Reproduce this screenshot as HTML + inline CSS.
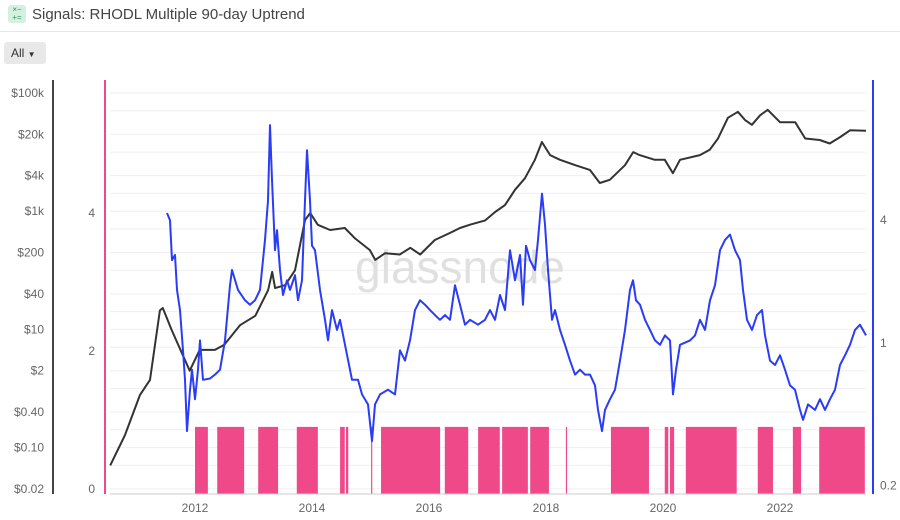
<!DOCTYPE html>
<html><head><meta charset="utf-8">
<style>
body{margin:0;width:900px;height:520px;background:#fff;font-family:"Liberation Sans",sans-serif;overflow:hidden;position:relative}
.hdr{position:absolute;left:0;top:0;width:900px;height:31px;border-bottom:1px solid #e6e6e6}
.icon{position:absolute;left:8px;top:5px;width:18px;height:18px;background:#d3f0e2;border-radius:3px;color:#3a8f6a;font-size:8px;line-height:8px;text-align:center;padding-top:1px;box-sizing:border-box}
.title{position:absolute;left:32px;top:6px;font-size:15px;color:#444}
.btn{position:absolute;left:4px;top:42px;width:42px;height:22px;background:#e8e8e8;border-radius:3px;font-size:12px;color:#333;line-height:22px;padding-left:7px;box-sizing:border-box}
svg{position:absolute;left:0;top:0}
</style></head><body>
<div class="hdr">
<div class="icon">×−<br>+=</div>
<div class="title">Signals: RHODL Multiple 90-day Uptrend</div>
</div>
<div class="btn">All <span style="font-size:8px">▼</span></div>
<svg id="chart" width="900" height="520"></svg>
<script>
const priceYears=[2010.55,2010.8,2011.06,2011.23,2011.4,2011.45,2011.6,2011.83,2011.91,2012.08,2012.34,2012.5,2012.77,2013.03,2013.25,2013.32,2013.37,2013.54,2013.71,2013.88,2013.97,2014.1,2014.31,2014.56,2014.73,2014.99,2015.08,2015.25,2015.5,2015.68,2015.85,2016.1,2016.36,2016.53,2016.7,2016.96,2017.13,2017.3,2017.47,2017.64,2017.81,2017.93,2018.07,2018.24,2018.5,2018.75,2018.92,2019.09,2019.35,2019.49,2019.6,2019.86,2020.03,2020.17,2020.29,2020.63,2020.8,2020.94,2021.11,2021.28,2021.4,2021.52,2021.66,2021.79,2022.0,2022.26,2022.43,2022.68,2022.85,2023.03,2023.2,2023.47];
const priceValues=[0.05,0.16,0.78,1.4,21,23,9.8,3.0,2.0,4.5,4.5,5.5,11.8,17,46,94,50,56,100,708,933,588,480,520,350,220,150,195,185,240,185,325,430,520,590,700,970,1270,2300,3600,7400,14800,8900,7400,6000,5000,3000,3400,6000,10000,8900,7400,7400,4400,7400,8900,11000,17000,38000,48000,35000,29000,42000,52000,32000,32000,17000,16000,14000,18000,23500,23000];
const rhodlX=[167,170,172,175,177,180,183,185,187,190,192,195,198,200,203,210,215,220,225,230,232,238,245,250,255,260,265,268,270,272,275,277,280,283,287,290,295,298,302,305,307,310,312,315,320,325,328,332,337,340,345,352,358,362,368,372,375,380,388,395,400,405,410,415,420,425,430,435,440,445,450,455,460,465,470,478,485,490,495,500,505,510,515,520,523,526,530,535,538,542,545,548,552,555,560,565,570,575,580,585,590,595,598,602,605,610,615,620,625,630,633,636,640,645,650,655,660,665,670,673,676,680,690,695,700,705,710,715,720,725,730,735,740,743,747,752,757,762,765,770,775,780,785,790,795,800,803,808,815,820,825,830,835,840,845,850,855,860,866];
const rhodlYears=rhodlX.map(x=>2012+(x-195)/58.5);
const rhodlValues=[4.34,4.0,2.55,2.7,1.82,1.45,0.92,0.66,0.37,0.59,0.74,0.53,0.74,1.03,0.66,0.67,0.70,0.74,1.03,1.92,2.28,1.82,1.62,1.54,1.62,1.82,3.2,5.0,11.7,6.3,2.85,3.57,2.28,1.72,2.03,1.82,2.15,1.62,2.03,5.0,8.8,5.0,3.0,2.85,1.82,1.30,1.03,1.45,1.16,1.30,0.98,0.66,0.66,0.56,0.50,0.33,0.50,0.56,0.59,0.56,0.92,0.82,1.03,1.45,1.62,1.54,1.45,1.37,1.30,1.37,1.30,1.92,1.54,1.23,1.30,1.23,1.30,1.45,1.30,1.72,1.45,2.85,2.03,2.7,1.54,3.0,2.55,2.28,3.2,5.4,3.8,2.28,1.30,1.45,1.16,0.98,0.82,0.70,0.74,0.70,0.70,0.62,0.47,0.37,0.47,0.53,0.59,0.82,1.16,1.82,2.03,1.62,1.54,1.30,1.16,1.03,0.98,1.09,1.03,0.56,0.74,0.98,1.03,1.09,1.30,1.16,1.62,1.92,2.85,3.2,3.4,2.85,2.55,1.82,1.30,1.16,1.37,1.45,1.09,0.82,0.78,0.87,0.74,0.62,0.59,0.47,0.42,0.50,0.47,0.53,0.47,0.53,0.59,0.78,0.87,0.98,1.16,1.23,1.09];
const signalStarts=[2012.0,2012.38,2013.08,2013.74,2014.48,2014.58,2015.01,2015.18,2016.27,2016.84,2017.25,2017.73,2018.34,2019.11,2020.03,2020.12,2020.39,2021.62,2022.22,2022.67];
const signalEnds=[2012.22,2012.84,2013.42,2014.10,2014.56,2014.62,2015.03,2016.19,2016.67,2017.21,2017.69,2018.05,2018.36,2019.76,2020.09,2020.19,2021.26,2021.88,2022.36,2023.45];
const signalValue=0.9;
const priceTicks=[100000,20000,4000,1000,200,40,10,2,0.4,0.1,0.02];
const priceTickLabels=["$100k","$20k","$4k","$1k","$200","$40","$10","$2","$0.40","$0.10","$0.02"];
const gridValues=[100000,50000,20000,10000,4000,2000,1000,500,200,100,40,20,10,5,2,1,0.4,0.2,0.1,0.05,0.02];
const signalTicks=[0,2,4];
const rhodlTicks=[4,1,0.2];
const yearTicks=[2012,2014,2016,2018,2020,2022];

const X=y=>195+(y-2012)*58.5;
const YP=v=>93+(5-Math.log10(v))*59.1;
const YS=v=>489-v*69;
const YR=v=>343-Math.log10(v)*204;
const svg=document.getElementById('chart');
const NS='http://www.w3.org/2000/svg';
function mk(tag,attrs,parent){const e=document.createElementNS(NS,tag);for(const k in attrs)e.setAttribute(k,attrs[k]);(parent||svg).appendChild(e);return e;}

gridValues.forEach(v=>{const l=mk('line',{x1:110,x2:866,y1:YP(v),y2:YP(v),stroke:'#efefef','stroke-width':1});

});
const wm=mk('text',{x:460,y:283,'font-size':46,fill:'#e0e0e0','text-anchor':'middle','font-family':'Liberation Sans, sans-serif'});
wm.textContent='glassnode';



signalStarts.forEach((s,i)=>{const r=mk('rect',{x:X(s),y:YS(signalValue),width:Math.max(1,X(signalEnds[i])-X(s)),height:489-YS(signalValue)+5,fill:'#f0498a'});

});

const pp=mk('path',{d:priceYears.map((y,i)=>(i?'L':'M')+X(y).toFixed(1)+','+YP(priceValues[i]).toFixed(1)).join(''),fill:'none',stroke:'#333','stroke-width':2,'stroke-linejoin':'round'});


const rp=mk('path',{d:rhodlYears.map((y,i)=>(i?'L':'M')+X(y).toFixed(1)+','+YR(rhodlValues[i]).toFixed(1)).join(''),fill:'none',stroke:'#2a3cf5','stroke-width':2,'stroke-linejoin':'round'});



const ax1=mk('line',{x1:53,x2:53,y1:80,y2:494,stroke:'#444','stroke-width':2});


const ax2=mk('line',{x1:105,x2:105,y1:80,y2:494,stroke:'#f0498a','stroke-width':2});


const ax3=mk('line',{x1:873,x2:873,y1:80,y2:494,stroke:'#2a3cf5','stroke-width':2});


const ax4=mk('line',{x1:110,x2:866,y1:494,y2:494,stroke:'#ccc','stroke-width':1});



priceTicks.forEach((v,i)=>{const t=mk('text',{x:44,y:YP(v)+4,'font-size':12,fill:'#666','text-anchor':'end'});t.textContent=priceTickLabels[i];

});
signalTicks.forEach(v=>{const t=mk('text',{x:95,y:YS(v)+4,'font-size':12,fill:'#666','text-anchor':'end'});t.textContent=String(v);

});
rhodlTicks.forEach(v=>{const t=mk('text',{x:880,y:YR(v)+4,'font-size':12,fill:'#666'});t.textContent=String(v);

});
yearTicks.forEach(v=>{const t=mk('text',{x:X(v),y:512,'font-size':12,fill:'#666','text-anchor':'middle'});t.textContent=String(v);

});
</script>
</body></html>
